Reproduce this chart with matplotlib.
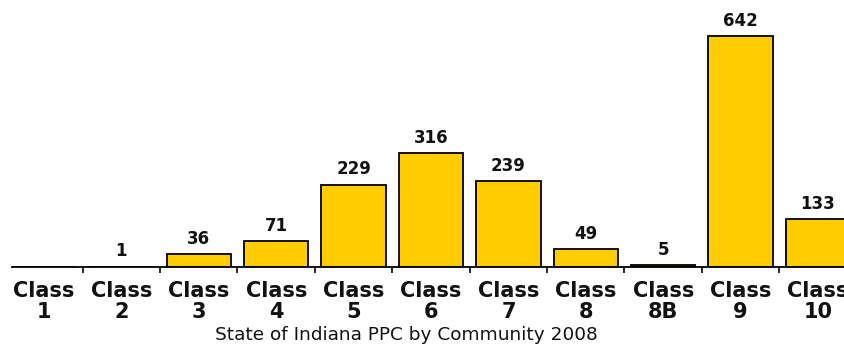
import matplotlib
matplotlib.use("Agg")
import matplotlib.pyplot as plt
import numpy as np

categories = ["Class\n1", "Class\n2", "Class\n3", "Class\n4", "Class\n5", "Class\n6",
              "Class\n7", "Class\n8", "Class\n8B", "Class\n9", "Class\n10"]
values = [0, 1, 36, 71, 229, 316, 239, 49, 5, 642, 133]
title = "State of Indiana PPC by Community 2008"

W, H = 845, 344
fig = plt.figure(figsize=(W / 100, H / 100), dpi=100)
# axes from x=12px extending past right edge; baseline at y=267px from top
ax_left, ax_right = 12, 880
base_y = 267
ax = fig.add_axes([ax_left / W, (H - base_y) / H, (ax_right - ax_left) / W, base_y / H])

x = np.arange(len(categories))
ax.bar(x, values, width=0.83, color="#FFCC00", edgecolor="black", linewidth=1.3, zorder=2)

for xi, v in zip(x, values):
    if v > 0:
        ax.annotate(str(v), (xi, v), xytext=(0, 4.5), textcoords="offset points",
                    ha="center", va="bottom", fontsize=12, fontweight="bold",
                    family="DejaVu Sans", color="#111111")

for s in ["top", "right", "left"]:
    ax.spines[s].set_visible(False)
ax.spines["bottom"].set_linewidth(1.3)
ax.set_yticks([])
ax.set_xticks(x)
ax.set_xticklabels(categories, fontsize=15, fontweight="bold", family="DejaVu Sans",
                   linespacing=1.05, color="#111111")
ax.tick_params(axis="x", which="major", length=0, pad=10)
ax.set_xticks(np.arange(-0.5, len(categories) + 0.5, 1), minor=True)
ax.tick_params(axis="x", which="minor", length=4, width=1.2, direction="out")

px_per_cat = 77.4
c0 = 44
ax.set_xlim((ax_left - c0) / px_per_cat, (ax_right - c0) / px_per_cat)
ax.set_ylim(0, 742)

fig.text(406 / W, 1 - 335 / H, title, ha="center", va="center", fontsize=13.3,
         family="DejaVu Sans", color="#111111")

fig.savefig("out.png", dpi=100)
